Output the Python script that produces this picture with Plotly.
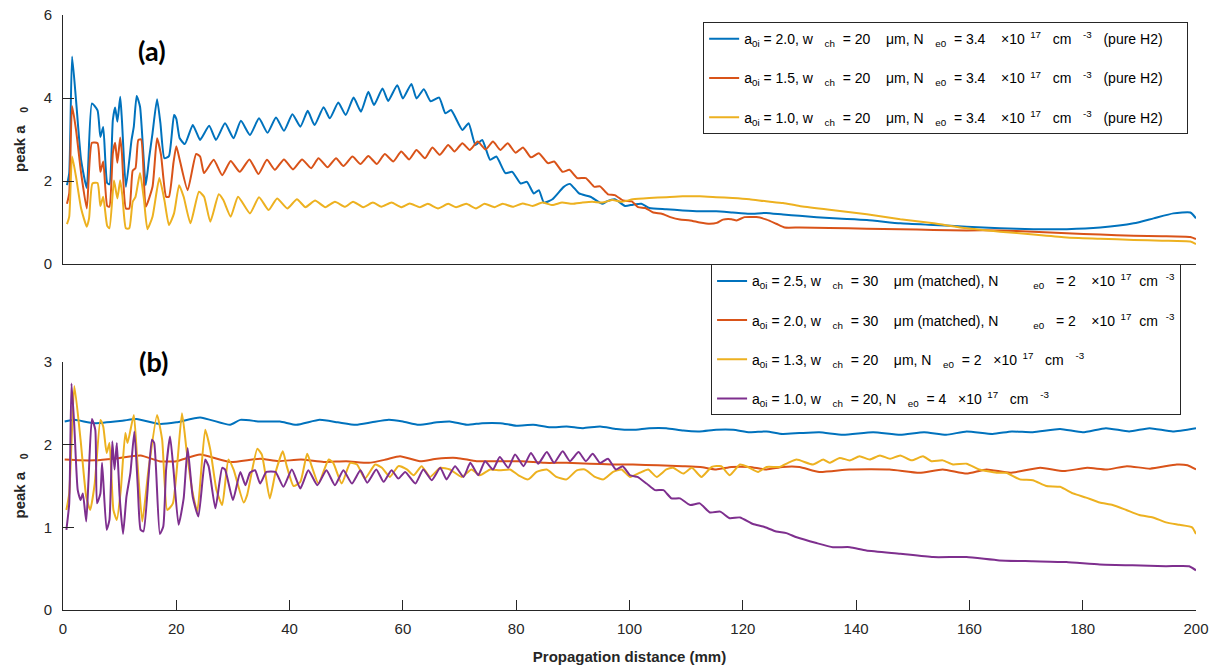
import plotly.graph_objects as go

# ---------------- data: panel (a) ----------------
a_blue_x = [0.7,1.1,1.6,2.3,3.2,4.2,5.1,6.1,6.6,7.1,7.8,8.2,8.8,9.2,9.6,10.1,10.4,11.1,12.1,12.5,13.0,13.6,14.6,15.2,15.8,16.6,17.2,17.9,18.7,19.6,20.0,20.6,21.5,22.9,23.5,24.2,25.8,27.0,28.6,30.1,31.4,33.0,34.6,36.1,37.6,39.0,40.5,41.9,43.2,44.4,46.0,47.1,48.6,49.9,51.3,52.6,53.9,54.9,56.4,57.4,59.0,60.0,61.5,62.4,63.7,64.9,66.4,67.5,68.5,70.5,71.6,72.8,74.0,75.4,76.5,78.1,79.3,80.8,81.9,83.1,84.0,84.9,86.4,88.4,89.5,91.1,93.1,95.2,96.0,97.4,99.2,100.6,102.1,103.5,106.5,109.4,112.4,115.3,118.2,121.2,124.1,127.1,130.0,136.0,141.9,147.8,153.7,159.5,165.4,171.3,177.2,183.1,189.0,192.5,196.0,199.0,200.0]
a_blue_y = [1.9,2.19,5.0,3.95,2.5,1.83,3.87,3.7,3.06,3.3,1.95,1.92,3.47,3.77,3.43,4.03,3.47,1.86,2.99,3.31,4.05,3.79,1.9,2.55,3.15,3.97,3.39,2.55,2.6,3.59,3.5,3.03,2.89,3.35,3.19,2.99,3.33,2.99,3.39,3.03,3.45,3.11,3.51,3.16,3.53,3.21,3.61,3.31,3.69,3.35,3.78,3.51,3.89,3.59,4.01,3.67,4.15,3.83,4.23,3.93,4.31,3.99,4.34,3.99,4.21,3.92,4.01,3.63,3.71,3.23,3.39,2.87,2.99,2.51,2.59,2.19,2.22,1.94,1.98,1.70,1.78,1.48,1.56,1.86,1.93,1.70,1.62,1.45,1.51,1.56,1.40,1.43,1.45,1.35,1.32,1.29,1.27,1.27,1.24,1.21,1.23,1.19,1.16,1.10,1.06,0.98,0.94,0.90,0.86,0.84,0.84,0.88,0.98,1.10,1.22,1.24,1.10]

a_orange_x = [0.7,1.1,1.6,2.3,3.2,4.2,5.1,6.1,6.6,7.1,7.8,8.2,8.8,9.2,9.6,10.1,10.4,11.1,11.7,12.3,12.8,13.3,13.8,14.6,15.8,16.6,17.3,18.2,18.7,19.5,20.0,20.6,22.0,23.5,24.2,24.9,26.6,28.1,29.6,31.2,32.9,34.5,36.0,37.4,39.0,40.6,42.2,43.8,45.1,46.7,48.2,49.5,51.1,52.5,53.9,55.4,56.8,58.3,59.7,61.1,62.4,63.9,65.2,66.5,68.0,69.1,70.5,71.8,73.2,74.6,75.9,77.2,78.5,79.9,81.2,82.6,84.0,85.6,86.7,88.2,89.4,90.8,92.3,93.8,94.8,96.2,97.4,98.9,100.4,101.5,102.8,104.2,105.7,107.2,108.9,110.7,112.4,114.2,115.4,116.5,118.0,118.9,120.3,122.4,124.2,125.9,127.4,130.0,135.3,141.9,147.8,153.7,159.5,165.3,171.3,177.2,183.1,189.0,194.0,199.0,200.0]
a_orange_y = [1.45,1.70,3.81,3.23,2.19,1.34,2.92,2.91,2.22,2.47,1.40,1.38,2.67,2.92,2.44,3.05,2.67,1.34,1.34,2.25,2.31,2.99,3.0,1.38,1.86,3.03,2.63,1.62,1.62,2.44,2.84,2.51,1.78,2.65,2.59,2.19,2.51,2.14,2.48,2.22,2.52,2.17,2.51,2.27,2.52,2.28,2.52,2.31,2.55,2.33,2.55,2.36,2.59,2.41,2.60,2.41,2.65,2.47,2.71,2.52,2.75,2.55,2.81,2.63,2.87,2.71,2.91,2.75,2.95,2.76,2.95,2.75,2.91,2.68,2.81,2.57,2.67,2.43,2.47,2.22,2.27,2.07,2.07,1.86,1.87,1.68,1.66,1.53,1.51,1.37,1.35,1.24,1.21,1.13,1.07,1.05,1.00,0.97,0.99,1.07,1.08,1.05,1.13,1.13,1.07,0.97,0.88,0.88,0.87,0.85,0.84,0.82,0.81,0.81,0.78,0.74,0.71,0.68,0.67,0.65,0.60]

a_yellow_x = [0.7,1.1,1.6,2.3,3.2,4.2,4.6,5.2,6.1,6.6,7.1,7.8,8.2,9.0,9.6,10.1,10.5,11.1,11.7,12.3,12.8,13.6,14.3,14.9,15.8,17.0,17.9,18.7,19.6,20.5,21.3,22.5,24.0,24.9,26.0,27.5,28.3,29.6,30.9,33.0,34.6,36.3,37.8,39.6,41.3,42.8,44.5,46.3,48.0,49.8,51.2,53.0,54.7,56.2,58.0,59.7,61.2,63.0,64.4,66.2,68.0,69.4,71.2,72.9,74.4,76.2,77.6,79.4,81.1,82.9,84.6,86.4,88.1,89.9,91.7,93.4,95.2,97.0,98.7,100.6,103.5,106.5,109.4,112.4,115.3,118.2,121.2,124.1,127.1,130.0,135.3,141.9,147.8,153.7,159.5,165.4,171.3,177.2,183.1,189.0,194.0,199.0,200.0]
a_yellow_y = [0.96,1.14,2.59,2.10,1.34,0.90,1.10,1.94,1.95,1.40,1.62,0.92,0.86,2.01,1.58,2.02,1.62,0.86,0.86,1.50,1.62,2.19,1.54,0.84,1.14,2.07,1.54,0.94,1.22,1.90,1.62,0.98,1.74,1.62,1.02,1.68,1.54,1.14,1.62,1.22,1.61,1.30,1.58,1.34,1.56,1.37,1.53,1.37,1.50,1.38,1.50,1.37,1.48,1.38,1.48,1.37,1.46,1.37,1.45,1.34,1.45,1.37,1.45,1.34,1.45,1.37,1.45,1.38,1.46,1.40,1.48,1.42,1.48,1.45,1.48,1.50,1.48,1.54,1.50,1.56,1.59,1.61,1.63,1.63,1.61,1.59,1.56,1.51,1.47,1.40,1.31,1.20,1.08,0.98,0.86,0.78,0.71,0.64,0.61,0.58,0.56,0.54,0.48]

# ---------------- data: panel (b) ----------------
b_blue_x = [0.3,2.0,5.5,10.5,13.0,17.0,20.0,24.2,29.5,31.3,34.8,38.3,41.2,45.3,48.5,51.7,54.5,57.5,60.0,62.8,66.0,68.3,71.3,74.0,77.2,80.0,83.0,86.0,88.9,91.8,94.8,97.7,100.6,103.5,106.5,109.5,112.4,115.3,118.3,121.2,124.2,127.0,130.0,133.5,137.7,143.0,147.8,152.0,155.9,159.5,164.1,167.5,171.2,176.0,180.0,184.1,188.2,191.8,195.9,200.0]
b_blue_y = [2.28,2.30,2.26,2.29,2.31,2.25,2.27,2.33,2.24,2.30,2.28,2.28,2.24,2.30,2.27,2.24,2.27,2.30,2.28,2.24,2.27,2.28,2.24,2.26,2.26,2.23,2.24,2.21,2.22,2.20,2.22,2.19,2.18,2.20,2.20,2.17,2.16,2.18,2.18,2.15,2.16,2.13,2.14,2.15,2.12,2.15,2.12,2.15,2.12,2.16,2.13,2.16,2.15,2.19,2.15,2.20,2.16,2.20,2.16,2.20]

b_orange_x = [0.3,3.0,5.5,9.0,13.7,17.0,20.0,24.2,29.5,34.8,38.0,42.0,46.0,50.0,54.0,57.0,59.5,63.0,66.0,69.5,73.0,77.2,81.0,85.0,88.9,93.0,97.0,100.6,105.0,109.4,112.5,115.3,118.0,121.2,124.2,127.0,130.0,133.5,138.8,145.9,151.2,155.3,159.5,163.0,167.2,172.5,176.6,180.8,184.3,187.8,191.9,196.6,198.5,200.0]
b_orange_y = [1.82,1.81,1.81,1.83,1.87,1.80,1.80,1.88,1.79,1.83,1.80,1.82,1.79,1.80,1.78,1.82,1.86,1.80,1.83,1.84,1.80,1.80,1.80,1.78,1.78,1.77,1.76,1.76,1.75,1.74,1.73,1.70,1.73,1.73,1.70,1.73,1.73,1.67,1.70,1.70,1.66,1.70,1.65,1.70,1.66,1.72,1.68,1.72,1.70,1.74,1.71,1.76,1.75,1.70]

b_yellow_x = [0.6,1.1,2.0,3.1,4.1,4.8,5.6,6.6,7.1,7.7,8.2,8.9,9.5,10.2,11.0,11.4,12.5,13.1,14.0,15.1,16.6,17.5,18.4,19.4,21.0,21.8,22.8,23.7,25.1,26.0,27.1,28.1,29.2,30.1,31.9,32.5,34.3,35.1,36.5,37.5,38.8,39.5,40.7,41.9,43.1,43.9,45.1,46.9,47.7,49.2,50.7,51.9,53.3,55.1,56.3,57.7,59.2,60.7,61.9,63.3,64.8,66.6,68.3,70.4,72.1,73.6,75.4,77.1,78.9,80.4,82.1,83.6,85.4,87.1,88.9,90.7,92.1,93.9,95.4,97.1,98.6,100.1,101.8,103.3,104.8,106.5,107.7,109.5,111.0,112.7,114.5,116.2,117.7,119.5,120.9,122.7,124.2,126.5,128.0,129.5,132.4,134.2,135.3,137.1,138.9,140.6,142.4,144.2,146.0,147.8,149.8,151.8,153.3,155.3,157.1,159.5,161.7,164.8,166.5,168.9,171.2,173.6,176.0,178.3,180.6,183.0,185.3,187.7,190.0,192.4,194.7,197.1,199.3,200.0]
b_yellow_y = [1.21,1.41,2.71,2.06,1.37,1.21,1.53,2.30,2.22,1.90,2.02,1.21,1.09,1.45,2.14,2.02,2.36,1.82,1.07,1.70,2.36,2.06,1.21,1.29,2.38,1.94,1.45,1.19,2.18,1.94,1.45,1.27,1.82,1.70,1.30,1.39,1.95,1.88,1.35,1.66,1.92,1.74,1.50,1.55,1.89,1.74,1.53,1.82,1.78,1.53,1.78,1.76,1.59,1.76,1.72,1.61,1.74,1.70,1.63,1.74,1.61,1.72,1.70,1.61,1.70,1.63,1.70,1.69,1.70,1.63,1.58,1.67,1.70,1.61,1.58,1.69,1.70,1.61,1.58,1.67,1.70,1.61,1.66,1.70,1.61,1.70,1.72,1.65,1.72,1.61,1.73,1.74,1.63,1.76,1.73,1.67,1.73,1.73,1.78,1.82,1.76,1.82,1.78,1.84,1.81,1.86,1.82,1.87,1.83,1.87,1.81,1.86,1.80,1.81,1.76,1.77,1.70,1.66,1.66,1.58,1.57,1.50,1.49,1.41,1.36,1.30,1.27,1.21,1.15,1.12,1.06,1.03,1.00,0.92]

b_purple_x = [0.6,1.1,1.5,2.0,2.6,3.1,3.5,4.1,4.5,5.1,5.7,6.0,6.6,6.9,7.7,8.2,8.7,9.1,9.5,10.0,10.6,11.2,11.9,12.6,13.2,13.7,14.2,15.1,15.7,16.1,17.1,17.7,18.2,18.9,19.5,20.4,21.3,22.0,22.9,23.9,25.1,25.7,26.9,28.1,28.6,30.0,31.3,32.2,33.0,33.9,34.8,35.9,37.5,38.9,40.4,41.9,43.3,44.9,46.5,48.0,49.5,51.0,52.5,53.7,55.3,56.6,58.0,59.2,60.4,62.2,63.6,65.1,66.6,67.7,69.2,70.7,71.9,73.3,74.5,75.9,77.1,78.6,79.8,81.3,82.6,83.9,85.4,86.7,88.2,89.5,91.0,92.3,93.5,94.8,96.2,97.6,98.8,100.1,101.4,103.0,104.5,106.0,107.4,108.9,110.7,112.4,114.2,116.0,117.7,119.5,121.8,123.6,125.9,127.7,129.5,133.0,135.9,138.9,141.8,147.8,153.6,159.5,165.3,171.2,177.1,183.0,188.8,194.7,198.8,200.0]
b_purple_y = [0.97,1.29,2.74,2.22,1.45,1.33,1.41,1.07,1.57,2.31,2.18,1.29,1.41,1.78,0.97,1.09,2.04,1.70,2.02,1.37,0.92,1.37,1.66,2.16,1.49,0.97,0.95,1.61,2.06,2.02,0.92,1.01,1.70,2.10,1.70,1.03,1.35,1.96,1.37,1.13,1.82,1.74,1.23,1.72,1.70,1.33,1.67,1.51,1.66,1.69,1.53,1.67,1.67,1.49,1.70,1.47,1.69,1.51,1.69,1.51,1.69,1.53,1.69,1.54,1.70,1.55,1.69,1.59,1.67,1.53,1.70,1.57,1.72,1.58,1.74,1.61,1.78,1.63,1.80,1.70,1.85,1.72,1.88,1.74,1.90,1.77,1.91,1.78,1.92,1.80,1.91,1.80,1.89,1.78,1.83,1.70,1.74,1.63,1.61,1.53,1.45,1.45,1.35,1.35,1.27,1.29,1.18,1.19,1.11,1.12,1.04,1.01,0.95,0.93,0.88,0.81,0.76,0.76,0.72,0.68,0.64,0.64,0.60,0.59,0.58,0.55,0.54,0.53,0.53,0.48]

x_ticks = [0, 20, 40, 60, 80, 100, 120, 140, 160, 180, 200]
ya_ticks = [0, 2, 4, 6]
yb_ticks = [0, 1, 2, 3]

NB = "\u00a0"
def sp(n):
    return NB * n

def label_a(a0):
    return (f"a<sub>0i</sub> = {a0}, w{sp(3)}<sub>ch</sub>{sp(2)}= 20{sp(4)}μm, N{sp(3)}"
            f"<sub>e0</sub>{sp(2)}= 3.4{sp(4)}×10<sup>{sp(2)}17</sup>{sp(3)}cm{sp(3)}<sup>-3</sup>{sp(3)}(pure H2){sp(5)}")

labels_b = [
    f"a<sub>0i</sub> = 2.5, w{sp(3)}<sub>ch</sub>{sp(2)}= 30{sp(4)}μm (matched), N{sp(9)}<sub>e0</sub>{sp(3)}= 2{sp(4)}×10<sup>{sp(2)}17</sup>{sp(2)}cm{sp(2)}<sup>-3</sup>",
    f"a<sub>0i</sub> = 2.0, w{sp(3)}<sub>ch</sub>{sp(2)}= 30{sp(4)}μm (matched), N{sp(9)}<sub>e0</sub>{sp(3)}= 2{sp(4)}×10<sup>{sp(2)}17</sup>{sp(2)}cm{sp(2)}<sup>-3</sup>",
    f"a<sub>0i</sub> = 1.3, w{sp(3)}<sub>ch</sub>{sp(2)}= 20{sp(4)}μm, N{sp(3)}<sub>e0</sub>{sp(2)}= 2{sp(3)}×10<sup>{sp(2)}17</sup>{sp(3)}cm{sp(3)}<sup>-3</sup>",
    f"a<sub>0i</sub> = 1.0, w{sp(3)}<sub>ch</sub>{sp(2)}= 20, N{sp(3)}<sub>e0</sub>{sp(2)}= 4{sp(3)}×10<sup>{sp(2)}17</sup>{sp(3)}cm{sp(3)}<sup>-3</sup>",
]

C = ["#0072BD", "#D95319", "#EDB120", "#7E2F8E"]
AX = "#262626"
FONT = "Liberation Sans, Arial, sans-serif"

fig = go.Figure()
for i, (xs, ys, a0) in enumerate([(a_blue_x, a_blue_y, "2.0"), (a_orange_x, a_orange_y, "1.5"),
                                   (a_yellow_x, a_yellow_y, "1.0")]):
    fig.add_trace(go.Scatter(x=xs, y=ys, mode="lines",
                             line=dict(color=C[i], width=2, shape="spline", smoothing=0.5),
                             name=label_a(a0), xaxis="x", yaxis="y", legend="legend",
                             legendgroup=f"a{i}"))
for i, (xs, ys) in enumerate([(b_blue_x, b_blue_y), (b_orange_x, b_orange_y),
                              (b_yellow_x, b_yellow_y), (b_purple_x, b_purple_y)]):
    fig.add_trace(go.Scatter(x=xs, y=ys, mode="lines",
                             line=dict(color=C[i], width=2, shape="spline", smoothing=0.5),
                             name=labels_b[i], xaxis="x2", yaxis="y2", legend="legend2",
                             legendgroup=f"b{i}"))

yax_common = dict(ticks="inside", ticklen=11, tickcolor=AX, showline=True, linecolor=AX,
                  linewidth=1, showgrid=False, zeroline=False, ticklabelstandoff=7,
                  ticklabeloverflow="allow", automargin=False,
                  tickfont=dict(family=FONT, size=15, color=AX))
ytitle_font = dict(family=FONT, size=15, color=AX)
fig.update_layout(
    template="none",
    width=1211, height=671,
    margin=dict(l=63, r=15, t=15, b=61, autoexpand=False),
    paper_bgcolor="white", plot_bgcolor="white",
    showlegend=True,
    xaxis=dict(domain=[0, 1], range=[0, 200], anchor="y", showline=True, linecolor=AX,
               linewidth=1, ticks="", showticklabels=False, showgrid=False, zeroline=False,
               automargin=False),
    yaxis=dict(domain=[0.5815, 1], range=[0, 6], anchor="x", tickvals=ya_ticks,
               title=dict(text=f"<b>peak a{sp(3)}<sub>0</sub></b>", standoff=14, font=ytitle_font),
               **yax_common),
    xaxis2=dict(domain=[0, 1], range=[0, 200], anchor="y2", showline=True, linecolor=AX,
                linewidth=1, ticks="inside", ticklen=10, tickcolor=AX, tickvals=x_ticks,
                showgrid=False, zeroline=False, ticklabelstandoff=5, automargin=False,
                ticklabeloverflow="allow",
                tickfont=dict(family=FONT, size=15, color=AX),
                title=dict(text="<b>Propagation distance (mm)</b>", standoff=15,
                           font=dict(family=FONT, size=15, color=AX))),
    yaxis2=dict(domain=[0, 0.4168], range=[0, 3], anchor="x2", tickvals=yb_ticks,
                title=dict(text=f"<b>peak a{sp(3)}<sub>0</sub></b>", standoff=14, font=ytitle_font),
                **yax_common),
    legend=dict(x=0.565, y=0.988, xanchor="left", yanchor="top", bgcolor="white",
                bordercolor=AX, borderwidth=1, tracegroupgap=18,
                font=dict(family=FONT, size=14, color="black")),
    legend2=dict(x=0.572, y=0.581, xanchor="left", yanchor="top", bgcolor="white",
                 bordercolor=AX, borderwidth=1, tracegroupgap=18,
                 font=dict(family=FONT, size=14, color="black")),
    annotations=[
        dict(text="<b>(a)</b>", x=0.0785, y=0.94, xref="paper", yref="paper",
             xanchor="center", yanchor="middle", showarrow=False,
             font=dict(family="Lato, Open Sans, sans-serif", size=27, color="black")),
        dict(text="<b>(b)</b>", x=0.0795, y=0.418, xref="paper", yref="paper",
             xanchor="center", yanchor="middle", showarrow=False,
             font=dict(family="Lato, Open Sans, sans-serif", size=27, color="black")),
    ],
)

fig.write_html("out.html", config={"displayModeBar": False},
               post_script="document.body.style.margin='0';document.body.style.overflow='hidden';")
